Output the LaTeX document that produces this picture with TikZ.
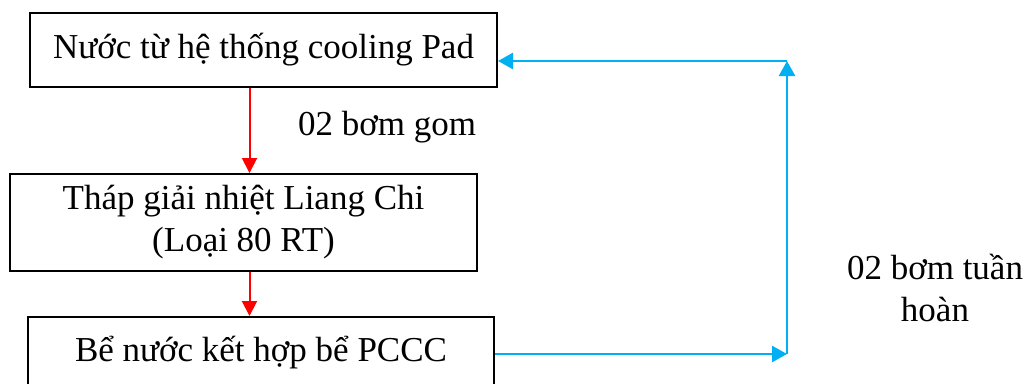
\documentclass[tikz,border=0pt]{standalone}
\usepackage{fontspec}
\setmainfont{Liberation Serif}
\usetikzlibrary{arrows.meta,calc}
\definecolor{flowred}{HTML}{FF0000}
\definecolor{flowblue}{HTML}{00B0F0}
\begin{document}
\begin{tikzpicture}[x=1pt,y=-1pt,
  stagebox/.style={draw=black,line width=2pt,inner sep=0pt,
    font=\fontsize{35}{42}\selectfont,align=center},
  redflow/.style={draw=flowred,line width=2pt,
    -{Triangle[length=15pt,width=15pt]}},
  blueflow/.style={draw=flowblue,line width=2.5pt,
    -{Triangle[length=15pt,width=16pt]}},
  caption/.style={font=\fontsize{35}{42}\selectfont,align=center,inner sep=0pt}]
  \clip (0,0) rectangle (1028,383);
  \useasboundingbox (0,0) rectangle (1028,383);
  \fill[white] (0,0) rectangle (1028,383);

  % process stages
  \node[stagebox,minimum width=467pt,minimum height=74pt] (pad) at (263.5,50)
    {Nước từ hệ thống cooling Pad};
  \node[stagebox,minimum width=467pt,minimum height=97pt] (tower) at (243.5,222.5)
    {Tháp giải nhiệt Liang Chi\\(Loại 80 RT)};
  \node[stagebox,minimum width=466pt,minimum height=72pt] (tank) at (261,353)
    {Bể nước kết hợp bể PCCC};

  % vertical line of the red arrows
  \coordinate (ax) at (249.5,0);
  \draw[redflow] (pad.south -| ax) -- (tower.north -| ax);
  \draw[redflow] (tower.south -| ax) -- (tank.north -| ax);
  \node[caption] (gom) at (387,127) {02 bơm gom};

  % return loop
  \coordinate (br) at (787,354);
  \coordinate (tr) at (787,61);
  \draw[blueflow] (tank.east |- br) -- (br);
  \draw[blueflow] (br) -- (tr);
  \draw[blueflow] (tr) -- (pad.east |- tr);
  \node[caption] (tuan) at (935,288) {02 bơm tuần\\hoàn};
\end{tikzpicture}
\end{document}
